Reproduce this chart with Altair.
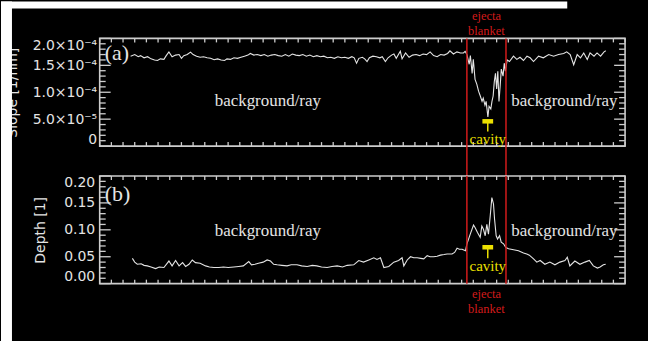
import altair as alt
import pandas as pd

# ---------------------------------------------------------------------------
# Profile along the track (position in arbitrary track units, 0-450)
# ---------------------------------------------------------------------------
pos_slope = [
    26.5, 30, 33, 35, 38, 41, 44, 47, 49.5, 52,
    55, 57, 59.3, 62, 65, 68, 70, 72, 75, 77.8,
    80, 83, 86, 89, 92, 95, 98, 101, 104, 107,
    109, 112, 115, 118, 121, 124, 127, 129, 132, 135,
    138, 141, 144, 147, 150, 153, 156, 159, 162, 165,
    168, 171, 174, 177, 180, 183, 186, 189, 192, 195,
    198, 201, 204, 207, 210, 213, 216, 218, 220, 222,
    225, 227, 229, 231, 234, 237, 240, 242, 244.7, 247,
    250, 252, 254, 257.5, 259, 262, 265, 268, 271, 274,
    277, 280, 283, 286, 289, 292, 295, 298, 300, 303,
    306, 309, 311.6, 313, 314.5, 316.5, 317.5, 319, 320, 321.5,
    323, 324.5, 326, 327.5, 328.5, 330, 331, 332.5, 333.5, 335,
    336, 337, 338, 339, 340, 341, 342, 343, 344, 345.5,
    346.5, 347.5, 349, 351, 354.4, 357.3, 360, 363, 366, 368.7,
    371.6, 375.9, 380, 384.6, 388.8, 393, 397.4, 400, 403, 406,
    409, 411.8, 414.6, 417.6, 420, 423.4, 426, 429, 432, 433.5,
]
# slope in units of 1e-4 per nm
slope_e4 = [
    1.67, 1.70, 1.66, 1.68, 1.64, 1.66, 1.62, 1.60, 1.59, 1.62,
    1.61, 1.68, 1.75, 1.66, 1.69, 1.70, 1.63, 1.68, 1.70, 1.745,
    1.70, 1.67, 1.65, 1.66, 1.64, 1.63, 1.605, 1.62, 1.60, 1.59,
    1.62, 1.61, 1.64, 1.63, 1.65, 1.67, 1.69, 1.72, 1.69, 1.70,
    1.68, 1.70, 1.67, 1.69, 1.70, 1.68, 1.67, 1.70, 1.67, 1.71,
    1.69, 1.68, 1.70, 1.67, 1.69, 1.66, 1.68, 1.66, 1.67, 1.64,
    1.65, 1.63, 1.66, 1.64, 1.65, 1.63, 1.66, 1.64, 1.54, 1.63,
    1.65, 1.62, 1.57, 1.64, 1.67, 1.66, 1.64, 1.66, 1.57, 1.64,
    1.69, 1.71, 1.63, 1.76, 1.62, 1.73, 1.65, 1.69, 1.70, 1.68,
    1.71, 1.70, 1.75, 1.68, 1.66, 1.70, 1.69, 1.72, 1.77, 1.71,
    1.75, 1.73, 1.73, 1.76, 1.70, 1.52, 1.68, 1.35, 1.61, 1.24,
    1.15, 1.02, 0.93, 0.83, 0.89, 0.76, 0.83, 0.54, 0.74, 0.69,
    0.83, 0.93, 1.20, 1.35, 1.06, 1.39, 0.83, 1.11, 1.43, 1.30,
    1.54, 1.39, 1.60, 1.57, 1.67, 1.61, 1.65, 1.59, 1.67, 1.64,
    1.57, 1.67, 1.64, 1.70, 1.67, 1.70, 1.72, 1.75, 1.70, 1.51,
    1.70, 1.64, 1.73, 1.61, 1.73, 1.67, 1.73, 1.67, 1.75, 1.77,
]

pos_depth = [
    28, 30, 32.2, 35.5, 38, 40.8, 44, 47.9, 51, 55,
    59.3, 62, 65, 68, 71, 73.6, 76.5, 79.3, 82, 86,
    90.7, 94, 97.8, 102, 106, 110, 114.9, 119, 123, 127.7,
    130, 133, 136, 140, 143.4, 146.3, 149, 152, 156, 160.5,
    164, 169, 173, 177.7, 182, 186, 190, 194.8, 199, 203.4,
    208, 212, 217.6, 221.9, 226, 230.5, 234.8, 237.5, 240.5, 243.4,
    247.6, 251.9, 256, 259, 260.5, 263.4, 266.2, 269, 271.9, 275,
    277.6, 280.5, 283, 286, 289, 291.9, 295, 297.6, 301.8, 304,
    306.1, 308, 310.4, 313.3, 314.5, 317.4, 320.2, 321.6, 323.6, 325.9,
    327.3, 328.7, 330.2, 331.6, 333, 334.5, 335.9, 337.3, 338.2, 339.6,
    340.8, 342.5, 343.9, 345.9, 347.9, 350.2, 354.5, 358.7, 363, 365.8,
    368, 371.6, 374.4, 377.3, 381.3, 385.6, 389.9, 394.2, 398.5, 400.5,
    402.7, 407, 411.3, 415.6, 419.4, 422.8, 426.3, 428.6, 431.4, 433.4,
]
depth = [
    0.047, 0.040, 0.036, 0.037, 0.034, 0.033, 0.031, 0.028, 0.031, 0.030,
    0.042, 0.033, 0.043, 0.033, 0.039, 0.032, 0.036, 0.044, 0.039, 0.038,
    0.033, 0.031, 0.030, 0.030, 0.031, 0.030, 0.031, 0.032, 0.033, 0.041,
    0.035, 0.036, 0.038, 0.040, 0.044, 0.042, 0.036, 0.035, 0.034, 0.033,
    0.035, 0.035, 0.033, 0.032, 0.034, 0.033, 0.031, 0.030, 0.032, 0.033,
    0.031, 0.034, 0.035, 0.043, 0.040, 0.044, 0.048, 0.045, 0.048, 0.030,
    0.032, 0.040, 0.043, 0.048, 0.033, 0.044, 0.050, 0.048, 0.048, 0.047,
    0.046, 0.052, 0.050, 0.050, 0.051, 0.053, 0.054, 0.055, 0.055, 0.058,
    0.066, 0.064, 0.064, 0.061, 0.0735, 0.092, 0.109, 0.104, 0.095, 0.086,
    0.107, 0.101, 0.089, 0.110, 0.092, 0.126, 0.160, 0.148, 0.120, 0.089,
    0.083, 0.089, 0.077, 0.074, 0.067, 0.065, 0.063, 0.061, 0.057, 0.055,
    0.053, 0.046, 0.040, 0.043, 0.036, 0.040, 0.035, 0.040, 0.043, 0.049,
    0.033, 0.042, 0.036, 0.040, 0.043, 0.033, 0.029, 0.031, 0.035, 0.036,
]
assert len(pos_slope) == len(slope_e4)
assert len(pos_depth) == len(depth)

# axes
x_domain = [0, 450]
x_tick_pos = list(range(0, 451, 10))

slope_major = [0.0, 5e-5, 1e-4, 1.5e-4, 2e-4]
slope_labels = ["0", "5.0×10⁻⁵", "1.0×10⁻⁴", "1.5×10⁻⁴", "2.0×10⁻⁴"]
slope_minor = [k * 1e-5 for k in range(1, 20) if k % 5]

depth_major = [0.0, 0.05, 0.10, 0.15, 0.20]
depth_labels = ["0.00", "0.05", "0.10", "0.15", "0.20"]
depth_minor = [k * 0.01 for k in range(1, 20) if k % 5]

# annotated features
blanket_edges = [314.5, 348.0]
blanket_mid = sum(blanket_edges) / 2
cavity_span = [327.8, 337.0]
cavity_mid = 332.4
cavity_slope = [0.46e-4, 0.27e-4, 0.13e-4]    # bar, end of stem, label
cavity_depth = [0.0676, 0.047, 0.0335]
bg_label_pos = [144, 398]
bg_slope_level = 0.83e-4
bg_depth_level = 0.098

# look
W, H, GAP = 527, 108, 30
FG = "#e4e4e4"
FRAME = "#cdcdcd"
RED = "#d21b1b"
YELLOW = "#ece000"
SERIF = "Liberation Serif"
SANS = "DejaVu Sans"


def label_expr(values, labels, tol):
    parts = [f"abs(datum.value - ({v!r})) < {tol} ? '{lab}'" for v, lab in zip(values, labels)]
    return " : ".join(parts) + " : ''"


def one():
    return pd.DataFrame({"k": [0]})


def panel(px, py, y_domain, major, labels, minor, tol, title, title_x,
          label_pad, tag, tag_y, cav, bg_level, rule_extend, blanket_y, top_margin):
    xs = alt.Scale(domain=x_domain, nice=False, zero=False)
    ys = alt.Scale(domain=y_domain, nice=False, zero=False)

    # one axis definition shared by every layer that uses the y scale
    yaxis = alt.Axis(
        values=major, labelExpr=label_expr(major, labels, tol), labelFlush=True,
        ticks=False, tickSize=0, domain=False, grid=False, labelPadding=label_pad,
        labelFont=SANS, labelFontSize=14, labelColor=FG,
        title=title, titleFont=SANS, titleFontSize=14, titleFontWeight="normal",
        titleColor=FG, titleX=title_x, titleY=H / 2, titleAngle=-90,
        titleAlign="center", titleBaseline="bottom", zindex=0,
    )

    def X(f):
        return alt.X(f, type="quantitative", scale=xs, axis=None)

    def Y(f):
        return alt.Y(f, type="quantitative", scale=ys, axis=yaxis)

    line = alt.Chart(pd.DataFrame({"p": px, "v": py})).mark_line(
        color=FG, strokeWidth=1.1
    ).encode(x=X("p"), y=Y("v"))

    maj = pd.DataFrame({"v": major})
    mnr = pd.DataFrame({"v": minor})
    tick = dict(color=FRAME, strokeWidth=1.3)
    ticks = [
        alt.Chart(maj).mark_rule(**tick).encode(y=Y("v"), x=alt.value(0), x2=alt.value(11)),
        alt.Chart(mnr).mark_rule(**tick).encode(y=Y("v"), x=alt.value(0), x2=alt.value(6)),
        alt.Chart(maj).mark_rule(**tick).encode(y=Y("v"), x=alt.value(W), x2=alt.value(W - 11)),
        alt.Chart(mnr).mark_rule(**tick).encode(y=Y("v"), x=alt.value(W), x2=alt.value(W - 6)),
    ]
    xt = pd.DataFrame({"t": x_tick_pos})
    ticks += [
        alt.Chart(xt).mark_rule(**tick).encode(x=X("t"), y=alt.value(H), y2=alt.value(H - 4)),
        alt.Chart(xt).mark_rule(**tick).encode(x=X("t"), y=alt.value(0), y2=alt.value(4)),
    ]

    edges = alt.Chart(pd.DataFrame({"e": blanket_edges})).mark_rule(
        color=RED, strokeWidth=1.5
    ).encode(x=X("e"), y=alt.value(0), y2=alt.value(H + rule_extend))

    bar = alt.Chart(pd.DataFrame({"a": [cavity_span[0]], "b": [cavity_span[1]], "y": [cav[0]]})).mark_rule(
        color=YELLOW, strokeWidth=4.5
    ).encode(x=X("a"), x2=alt.X2("b"), y=Y("y"))
    stem = alt.Chart(pd.DataFrame({"m": [cavity_mid], "y1": [cav[0]], "y2": [cav[1]]})).mark_rule(
        color=YELLOW, strokeWidth=1.5
    ).encode(x=X("m"), y=Y("y1"), y2=alt.Y2("y2"))
    cav_text = alt.Chart(pd.DataFrame({"m": [cavity_mid], "y": [cav[2]], "s": ["cavity"]})).mark_text(
        font=SERIF, fontSize=15, color=YELLOW, baseline="middle", align="center"
    ).encode(x=X("m"), y=Y("y"), text="s:N")

    bg = alt.Chart(pd.DataFrame({"p": bg_label_pos, "y": [bg_level] * 2,
                                 "s": ["background/ray"] * 2})).mark_text(
        font=SERIF, fontSize=17, color=FG, baseline="middle", align="center"
    ).encode(x=X("p"), y=Y("y"), text="s:N")

    tag_text = alt.Chart(one()).mark_text(
        font=SERIF, fontSize=22, color=FG, baseline="middle", align="left"
    ).encode(x=alt.value(5), y=alt.value(tag_y), text=alt.value(tag))

    blanket = []
    for word, yy in zip(["ejecta", "blanket"], blanket_y):
        blanket.append(
            alt.Chart(pd.DataFrame({"m": [blanket_mid], "s": [word]})).mark_text(
                font=SERIF, fontSize=12.5, color=RED, baseline="alphabetic", align="center"
            ).encode(x=X("m"), y=alt.value(yy), text="s:N")
        )

    layers = [line] + ticks + [edges, bar, stem, cav_text, bg, tag_text] + blanket

    if top_margin:
        # white paper margin along the top and left edges of the page
        layers += [
            alt.Chart(one()).mark_rect(color="white").encode(
                x=alt.value(-99), x2=alt.value(469), y=alt.value(-37), y2=alt.value(-30)),
            alt.Chart(one()).mark_rect(color="white").encode(
                x=alt.value(-99), x2=alt.value(-88), y=alt.value(-37),
                y2=alt.value(-37 + 341)),
        ]

    return alt.layer(*layers).properties(width=W, height=H)


top = panel(pos_slope, [v * 1e-4 for v in slope_e4], [0, 2e-4], slope_major, slope_labels,
            slope_minor, 1e-9, "Slope [1/nm]", -80, 3, "(a)", 15, cavity_slope,
            bg_slope_level, GAP, [-18.5, -3.5], True)
bottom = panel(pos_depth, depth, [0, 0.2], depth_major, depth_labels, depth_minor, 1e-6,
               "Depth [1]", -52, 5, "(b)", 18, cavity_depth, bg_depth_level, 0,
               [H + 14, H + 29], False)

chart = alt.vconcat(top, bottom, spacing=GAP, bounds="flush").properties(
    background="black",
    padding={"left": 0, "top": 0, "right": 21, "bottom": 0},
).configure_view(stroke=FRAME, strokeWidth=1.6, fill=None)

chart.save("out.html", embed_options={"renderer": "svg", "actions": False})
